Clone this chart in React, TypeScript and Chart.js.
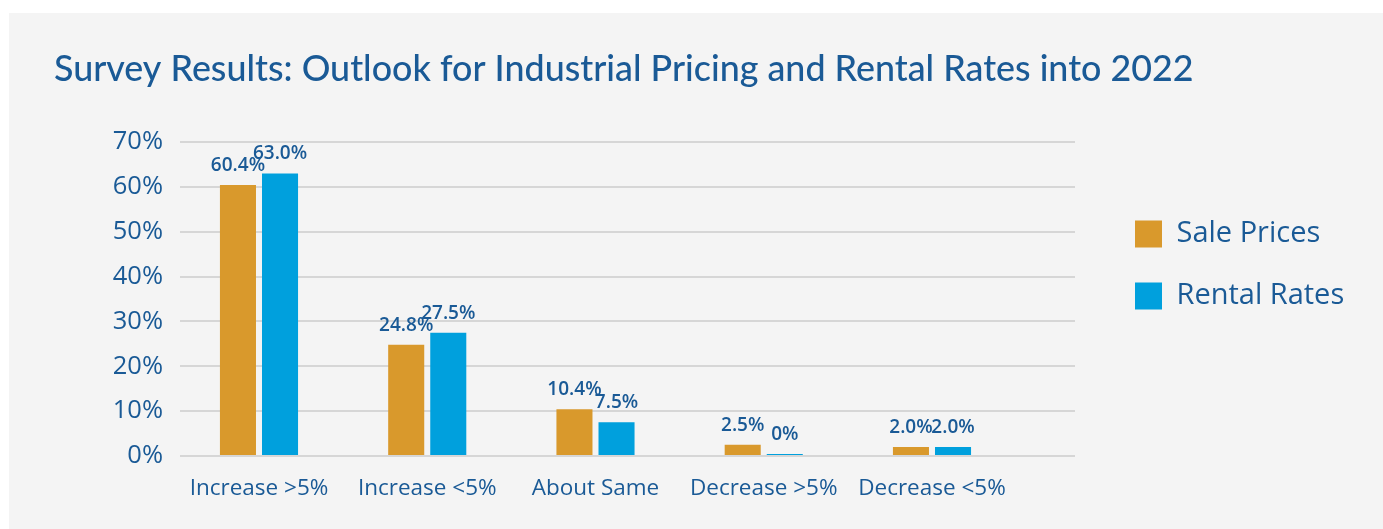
import React, { useEffect, useRef } from 'react';
import { Chart, registerables } from 'chart.js';

Chart.register(...registerables);

const title = 'Survey Results: Outlook for Industrial Pricing and Rental Rates into 2022';
const categories = ['Increase >5%', 'Increase <5%', 'About Same', 'Decrease >5%', 'Decrease <5%'];
const seriesNames = ['Sale Prices', 'Rental Rates'];
const salePrices = [60.4, 24.8, 10.4, 2.5, 2.0];
const rentalRates = [63.0, 27.5, 7.5, 0, 2.0];
const yTickValues = [0, 10, 20, 30, 40, 50, 60, 70];

const TITLE_FONT = 'Lato';
const FONT = 'Open Sans';
const TEXT = '#1a5a96';
const ORANGE = '#d9992c';
const BLUE = '#00a0dd';

const valueLabels = {
  id: 'valueLabels',
  afterDatasetsDraw(chart: any) {
    const ctx = chart.ctx;
    ctx.save();
    ctx.font = `600 19px "${FONT}"`;
    ctx.fillStyle = TEXT;
    ctx.textAlign = 'center';
    ctx.textBaseline = 'alphabetic';
    chart.data.datasets.forEach((ds: any, di: number) => {
      const meta = chart.getDatasetMeta(di);
      meta.data.forEach((bar: any, i: number) => {
        const v = ds.data[i].y;
        const txt = v === 0 ? '0%' : v.toFixed(1) + '%';
        ctx.fillText(txt, bar.x, bar.y - 14);
      });
    });
    ctx.restore();
  },
};

export default function App() {
  const ref = useRef<HTMLCanvasElement>(null);

  useEffect(() => {
    document.body.style.margin = '0';
    const canvas = ref.current;
    if (!canvas) return;
    const toPoints = (arr: number[]) => arr.map((v, i) => ({ x: i, y: v }));
    const chart = new Chart(canvas, {
      type: 'bar',
      data: {
        datasets: [
          {
            label: seriesNames[0],
            data: toPoints(salePrices),
            backgroundColor: ORANGE,
            borderWidth: 0,
            categoryPercentage: 0.5,
            barPercentage: 0.857,
            minBarLength: 2,
          },
          {
            label: seriesNames[1],
            data: toPoints(rentalRates),
            backgroundColor: BLUE,
            borderWidth: 0,
            categoryPercentage: 0.5,
            barPercentage: 0.857,
            minBarLength: 2,
          },
        ],
      },
      options: {
        responsive: false,
        animation: false,
        layout: { padding: { left: 45, right: 35, top: 0, bottom: 12 } },
        plugins: {
          title: {
            display: true,
            text: title,
            align: 'start',
            color: TEXT,
            font: { family: TITLE_FONT, size: 35.85, weight: '500' },
            padding: { top: 35, bottom: 51 },
          },
          legend: {
            position: 'right',
            align: 'center',
            maxWidth: 246,
            labels: {
              boxWidth: 27,
              boxHeight: 27,
              padding: 33,
              color: TEXT,
              font: { family: FONT, size: 29, weight: '500' },
            },
          },
          tooltip: { enabled: false },
        },
        scales: {
          x: {
            type: 'linear',
            offset: false,
            min: -0.4695,
            max: 4.85,
            grid: { display: false, drawTicks: false },
            border: { display: false },
            ticks: {
              color: TEXT,
              font: { family: FONT, size: 22.5, weight: '500' },
              padding: 19,
              maxRotation: 0,
              autoSkip: false,
              callback: (v: any) => categories[v] ?? '',
            },
            afterBuildTicks: (s: any) => {
              s.ticks = categories.map((_, i) => ({ value: i }));
            },
            afterFit: (s: any) => {
              s.height = 61;
            },
          },
          y: {
            min: 0,
            max: 70,
            grid: { color: '#d6d6d6', lineWidth: 2, drawTicks: false },
            border: { display: false },
            ticks: {
              color: TEXT,
              font: { family: FONT, size: 25.5, weight: '500' },
              padding: 17,
              stepSize: 10,
              callback: (v: any) => v + '%',
            },
            afterBuildTicks: (s: any) => {
              s.ticks = yTickValues.map((v) => ({ value: v }));
            },
            afterFit: (s: any) => {
              s.width = 126;
            },
          },
          y2: {
            position: 'right',
            grid: { display: false, drawTicks: false },
            border: { display: false },
            ticks: { display: false },
            afterFit: (s: any) => {
              s.width = 27;
            },
          },
        },
      } as any,
      plugins: [valueLabels],
    });
    return () => chart.destroy();
  }, []);

  return (
    <div style={{ position: 'relative', width: 1383, height: 529, background: '#ffffff', overflow: 'hidden' }}>
      <div style={{ position: 'absolute', left: 9, top: 13, width: 1374, height: 516, background: '#f4f4f4' }}>
        <canvas ref={ref} width={1374} height={516} style={{ display: 'block', width: 1374, height: 516 }} />
      </div>
    </div>
  );
}
